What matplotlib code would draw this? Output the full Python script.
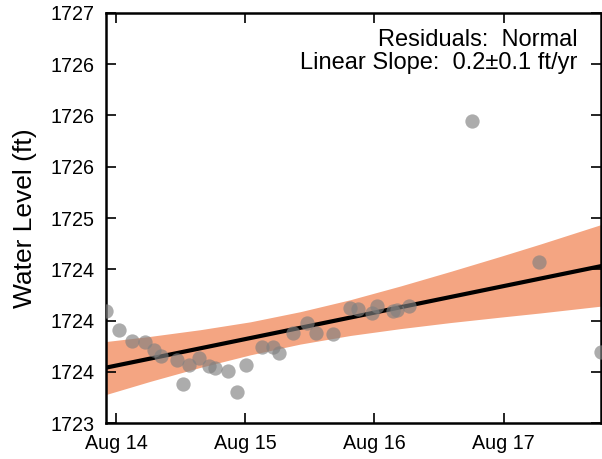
import numpy as np
import pandas as pd
import matplotlib
matplotlib.use('Agg')
import matplotlib.pyplot as plt
import matplotlib.dates as mdates

plt.rcParams['font.family'] = ['Liberation Sans', 'DejaVu Sans']

# --- datos ---
obs_time = pd.to_datetime([
    '2016-08-13 22:08', '2016-08-14 00:33', '2016-08-14 02:59', '2016-08-14 05:24',
    '2016-08-14 07:05', '2016-08-14 08:22', '2016-08-14 11:21', '2016-08-14 12:28',
    '2016-08-14 13:35', '2016-08-14 15:26', '2016-08-14 17:18', '2016-08-14 18:25',
    '2016-08-14 20:50', '2016-08-14 22:31', '2016-08-15 00:12', '2016-08-15 03:10',
    '2016-08-15 05:13', '2016-08-15 06:20', '2016-08-15 08:56', '2016-08-15 11:33',
    '2016-08-15 13:12', '2016-08-15 16:22', '2016-08-15 19:32', '2016-08-15 21:01',
    '2016-08-15 23:37', '2016-08-16 00:33', '2016-08-16 03:22', '2016-08-16 04:16',
    '2016-08-16 06:30', '2016-08-16 18:03', '2016-08-17 06:30', '2016-08-17 18:03'])
obs_level = [1724.09, 1723.91, 1723.80, 1723.79, 1723.71, 1723.65, 1723.61, 1723.38,
             1723.57, 1723.63, 1723.56, 1723.54, 1723.51, 1723.30, 1723.57, 1723.74,
             1723.74, 1723.68, 1723.88, 1723.98, 1723.88, 1723.87, 1724.12, 1724.11,
             1724.07, 1724.14, 1724.09, 1724.10, 1724.14, 1725.95, 1724.57, 1723.69]

# recta de ajuste (extremos)
fit_time = pd.to_datetime(['2016-08-13 22:08', '2016-08-17 18:03'])
fit_level = [1723.54, 1724.53]

# banda de confianza
band_time = pd.to_datetime([
    '2016-08-13 22:08', '2016-08-14 06:20', '2016-08-14 15:37', '2016-08-15 00:56',
    '2016-08-15 10:13', '2016-08-15 19:32', '2016-08-16 04:51', '2016-08-16 14:08',
    '2016-08-16 23:26', '2016-08-17 06:53', '2016-08-17 18:03'])
band_upper = [1723.795, 1723.845, 1723.910, 1723.987, 1724.086, 1724.203, 1724.337,
              1724.479, 1724.626, 1724.747, 1724.935]
band_lower = [1723.278, 1723.406, 1723.542, 1723.665, 1723.770, 1723.854, 1723.921,
              1723.980, 1724.033, 1724.074, 1724.140]

y_ticks = [1723.0, 1723.5, 1724.0, 1724.5, 1725.0, 1725.5, 1726.0, 1726.5, 1727.0]
y_tick_labels = ['1723', '1724', '1724', '1724', '1725', '1726', '1726', '1726', '1727']

note_text = 'Residuals:  Normal\nLinear Slope:  0.2\u00b10.1 ft/yr'

fig = plt.figure(figsize=(6.02, 4.59), dpi=100)
ax = fig.add_axes([0.176, 0.0784, 0.822, 0.8933])

ax.fill_between(band_time, band_lower, band_upper, color='#f4a582', linewidth=0, zorder=1)
ax.plot(fit_time, fit_level, color='black', linewidth=3, zorder=2)
ax.scatter(obs_time, obs_level, s=106, color='gray', alpha=0.65, linewidths=0, zorder=3)

ax.set_xlim(obs_time[0], obs_time[-1])
ax.set_ylim(1723, 1727)
ax.set_yticks(y_ticks)
ax.set_yticklabels(y_tick_labels)
ax.xaxis.set_major_locator(mdates.DayLocator())
ax.xaxis.set_major_formatter(mdates.DateFormatter('%b %d'))

ax.tick_params(direction='in', top=True, right=True, length=7, width=1.2,
               labelsize=14.2, pad=8)
for sp in ax.spines.values():
    sp.set_linewidth(1.8)

ax.set_ylabel('Water Level (ft)', fontsize=19, labelpad=10)
ax.text(0.953, 0.962, note_text, transform=ax.transAxes, ha='right', va='top',
        fontsize=17, linespacing=1.1, multialignment='right')

fig.savefig('out.png', dpi=100)
